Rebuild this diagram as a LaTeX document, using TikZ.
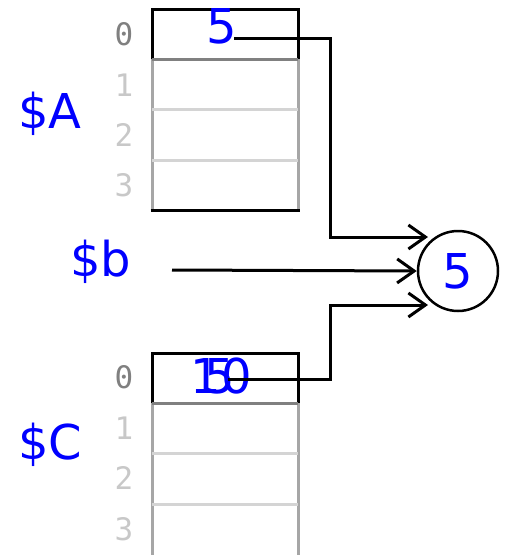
\documentclass[tikz,border=0pt]{standalone}
\usepackage{fontspec}
\setmainfont{DejaVu Sans}
\newfontfamily\idxfont{DejaVu Sans Mono}
\usetikzlibrary{arrows.meta}
\definecolor{valblue}{RGB}{0,0,255}
\definecolor{divgray}{RGB}{128,128,128}
\definecolor{sidegray}{RGB}{166,166,166}
\definecolor{linegray}{RGB}{212,212,212}
\definecolor{idxlight}{RGB}{200,200,200}
\begin{document}
\begin{tikzpicture}[x=1pt,y=-1pt,
  val/.style={text=valblue, font=\fontsize{48}{48}\selectfont, inner sep=0pt},
  idx/.style={font=\idxfont\fontsize{31}{31}\selectfont, inner sep=0pt, anchor=base},
  idxzero/.style={idx, text=divgray},
  idxrest/.style={idx, text=idxlight},
  framek/.style={line width=3pt, black},
  divider/.style={line width=3pt, divgray},
  rowside/.style={line width=3pt, sidegray},
  rowline/.style={line width=3pt, linegray},
  arr/.style={line width=3pt, -{Straight Barb[length=17pt,width=24pt]}}]
\useasboundingbox (0,0) rectangle (506,555);

% array $A
\draw[rowside] (152,59) -- (152,210) (298,59) -- (298,210);
\draw[rowline] (152,109) -- (298,109) (152,160) -- (298,160);
\draw[framek] (150.5,210) -- (299.5,210);
\draw[framek] (152,59) -- (152,9) -- (298,9) -- (298,59);
\draw[divider] (152,59) -- (298,59);

% array $C (continues below the page)
\draw[rowside] (152,403) -- (152,556) (298,403) -- (298,556);
\draw[rowline] (152,453) -- (298,453) (152,504) -- (298,504);
\draw[framek] (152,403) -- (152,353) -- (298,353) -- (298,403);
\draw[divider] (152,403) -- (298,403);

% indices
\node[idxzero] (iA0) at (124,45) {0};
\node[idxrest] (iA1) at (124,96) {1};
\node[idxrest] (iA2) at (124,146) {2};
\node[idxrest] (iA3) at (124,196) {3};
\node[idxzero] (iC0) at (124,388) {0};
\node[idxrest] (iC1) at (124,439) {1};
\node[idxrest] (iC2) at (124,489) {2};
\node[idxrest] (iC3) at (124,540) {3};

% variable names
\node[val, anchor=base west] (nA) at (18,128) {\$A};
\node[val, anchor=base west] (nb) at (70,276) {\$b};
\node[val, anchor=base west] (nC) at (18,459) {\$C};

% shared value
\node[val, draw=black, line width=2.5pt, circle, minimum size=80pt] (circ) at (458,271) {5};

% stored values
\node[val, anchor=base] (vA) at (222,43) {5};
\node[val, anchor=base] (vCold) at (221.5,393) {10};
\node[val, anchor=base] (vC) at (220,393) {5};

% reference arrows
\coordinate (sA) at (234,38);
\coordinate (kA) at (330,237);
\coordinate (tA) at (428,237);
\coordinate (sb) at (172,270);
\coordinate (sC) at (228,379);
\coordinate (kC) at (330,305);
\coordinate (tC) at (428,305);
\draw[arr] (sA) -| (kA) -- (tA);
\draw[arr] (sb) -- (circ.west);
\draw[arr] (sC) -| (kC) -- (tC);
\end{tikzpicture}
\end{document}
